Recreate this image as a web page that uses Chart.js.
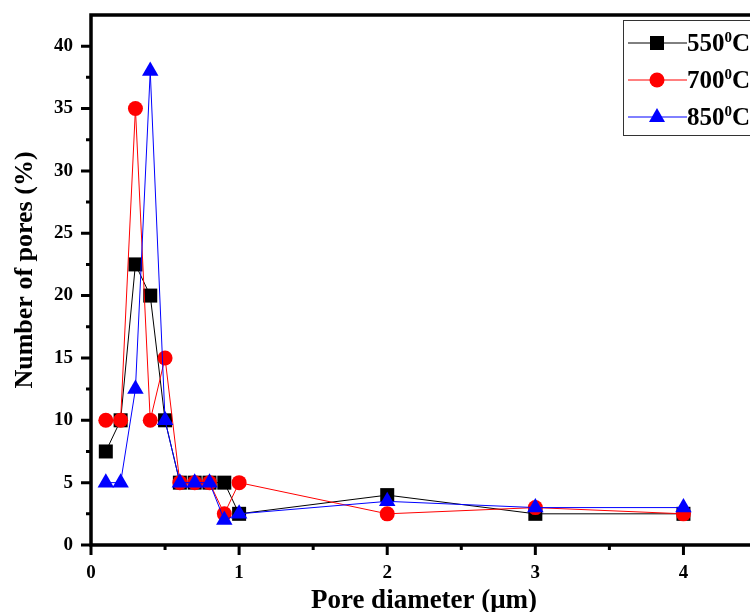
<!DOCTYPE html>
<html>
<head>
<meta charset="utf-8">
<script src="https://cdn.jsdelivr.net/npm/chart.js@4.4.0/dist/chart.umd.min.js"></script>
<style>
    html, body { margin: 0; padding: 0; background: #fff; overflow: hidden; }
    #wrap { width: 760px; height: 612px; }
</style>
</head>
<body>
<div id="wrap"><canvas id="chart" width="760" height="612"></canvas></div>
<script>
// Pore size distribution
const diameters = [0.1, 0.2, 0.3, 0.4, 0.5, 0.6, 0.7, 0.8, 0.9, 1, 2, 3, 4];
const pores550 = [7.5, 10, 22.5, 20, 10, 5, 5, 5, 5, 2.5, 4, 2.5, 2.5];
const pores700 = [10, 10, 35, 10, 15, 5, 5, 5, 2.5, 5, 2.5, 3, 2.5];
const pores850 = [5, 5, 12.5, 38, 10, 5, 5, 5, 2, 2.5, 3.5, 3, 3];

const seriesLabels = ['550', '700', '850'];
const xTicks = [0, 1, 2, 3, 4];
const xMinorTicks = [0.5, 1.5, 2.5, 3.5];
const yTicks = [0, 5, 10, 15, 20, 25, 30, 35, 40];
const yMinorTicks = [2.5, 7.5, 12.5, 17.5, 22.5, 27.5, 32.5, 37.5];

const SERIF = '"Liberation Serif", "Times New Roman", serif';
const toPoints = vals => vals.map((v, i) => ({ x: diameters[i], y: v }));

function drawMarker(ctx, style, x, y, color) {
    ctx.fillStyle = color;
    ctx.beginPath();
    if (style === 'rect') {
        ctx.rect(x - 7, y - 7, 14, 14);
    } else if (style === 'circle') {
        ctx.arc(x, y, 7.5, 0, Math.PI * 2);
    } else {
        ctx.moveTo(x, y - 9);
        ctx.lineTo(x + 8, y + 5);
        ctx.lineTo(x - 8, y + 5);
        ctx.closePath();
    }
    ctx.fill();
}

// axes frame, ticks, titles and the boxed legend
const framePlugin = {
    id: 'frame',
    afterDraw(chart) {
        const { ctx, chartArea: a, scales: { x, y } } = chart;
        ctx.save();
        ctx.strokeStyle = '#000';
        ctx.lineWidth = 3.5;
        ctx.lineJoin = 'miter';
        ctx.beginPath();
        ctx.moveTo(a.right + 20, a.top);
        ctx.lineTo(a.left, a.top);
        ctx.lineTo(a.left, a.bottom);
        ctx.lineTo(a.right + 20, a.bottom);
        ctx.stroke();

        ctx.lineWidth = 3;
        ctx.beginPath();
        for (const v of xTicks) {
            const px = x.getPixelForValue(v);
            ctx.moveTo(px, a.bottom); ctx.lineTo(px, a.bottom + 10);
        }
        for (const v of xMinorTicks) {
            const px = x.getPixelForValue(v);
            ctx.moveTo(px, a.bottom); ctx.lineTo(px, a.bottom + 5);
        }
        for (const v of yTicks) {
            const py = y.getPixelForValue(v);
            ctx.moveTo(a.left, py); ctx.lineTo(a.left - 10, py);
        }
        for (const v of yMinorTicks) {
            const py = y.getPixelForValue(v);
            ctx.moveTo(a.left, py); ctx.lineTo(a.left - 5, py);
        }
        ctx.stroke();

        // axis titles
        ctx.fillStyle = '#000';
        ctx.font = 'bold 27px ' + SERIF;
        ctx.textAlign = 'center';
        ctx.textBaseline = 'alphabetic';
        ctx.fillText('Pore diameter (\u03bcm)', 424, 608);
        ctx.font = 'bold 26px ' + SERIF;
        ctx.save();
        ctx.translate(32, 270);
        ctx.rotate(-Math.PI / 2);
        ctx.fillText('Number of pores (%)', 0, 0);
        ctx.restore();

        // legend
        const lx = 623, ly = 20;
        ctx.fillStyle = '#fff';
        ctx.fillRect(lx, ly, 200, 115);
        ctx.lineWidth = 1;
        ctx.strokeStyle = '#333';
        ctx.strokeRect(lx + 0.5, ly + 0.5, 200, 115);
        const ds = chart.data.datasets;
        seriesLabels.forEach((lab, i) => {
            const d = ds[i];
            const ry = 43 + i * 37;
            ctx.strokeStyle = d.borderColor;
            ctx.lineWidth = 1;
            ctx.beginPath();
            ctx.moveTo(628, ry); ctx.lineTo(687, ry);
            ctx.stroke();
            drawMarker(ctx, d.pointStyle, 657, ry, d.backgroundColor);
            ctx.fillStyle = '#000';
            ctx.textAlign = 'left';
            ctx.font = 'bold 25px ' + SERIF;
            ctx.fillText(lab, 687, ry + 8);
            const w = ctx.measureText(lab).width;
            ctx.font = 'bold 15px ' + SERIF;
            ctx.fillText('0', 687 + w, ry - 1);
            const w2 = ctx.measureText('0').width;
            ctx.font = 'bold 25px ' + SERIF;
            ctx.fillText('C', 687 + w + w2, ry + 8);
        });
        ctx.restore();
    }
};

const tickFont = { family: SERIF, size: 19, weight: 'bold' };

new Chart(document.getElementById('chart'), {
    type: 'line',
    data: {
        datasets: [
            {
                label: '550', data: toPoints(pores550),
                borderColor: '#000000', backgroundColor: '#000000',
                pointStyle: 'rect', pointRadius: 9.9, order: 3
            },
            {
                label: '700', data: toPoints(pores700),
                borderColor: '#ff0000', backgroundColor: '#ff0000',
                pointStyle: 'circle', pointRadius: 7.5, order: 2
            },
            {
                label: '850', data: toPoints(pores850),
                borderColor: '#0000ff', backgroundColor: '#0000ff',
                pointStyle: 'triangle', pointRadius: 9.5, order: 1
            }
        ].map(d => Object.assign(d, { borderWidth: 1, pointBorderWidth: 0, tension: 0, clip: false }))
    },
    options: {
        responsive: false,
        animation: false,
        layout: { padding: { top: 15, right: 0, bottom: 0, left: 0 } },
        plugins: { legend: { display: false }, tooltip: { enabled: false } },
        scales: {
            x: {
                type: 'linear', min: 0, max: 4.45,
                afterBuildTicks: s => { s.ticks = xTicks.map(v => ({ value: v })); },
                afterFit: s => { s.height = 67; s.paddingLeft = 0; s.paddingRight = 0; },
                grid: { display: false, drawTicks: false },
                border: { display: false },
                ticks: { font: tickFont, color: '#000', padding: 17, maxRotation: 0, autoSkip: false }
            },
            y: {
                type: 'linear', min: 0, max: 42.5,
                afterBuildTicks: s => { s.ticks = yTicks.map(v => ({ value: v })); },
                afterFit: s => { s.width = 91; s.paddingTop = 0; s.paddingBottom = 0; },
                grid: { display: false, drawTicks: false },
                border: { display: false },
                ticks: { font: tickFont, color: '#000', padding: 18, autoSkip: false }
            }
        }
    },
    plugins: [framePlugin]
});
</script>
</body>
</html>
